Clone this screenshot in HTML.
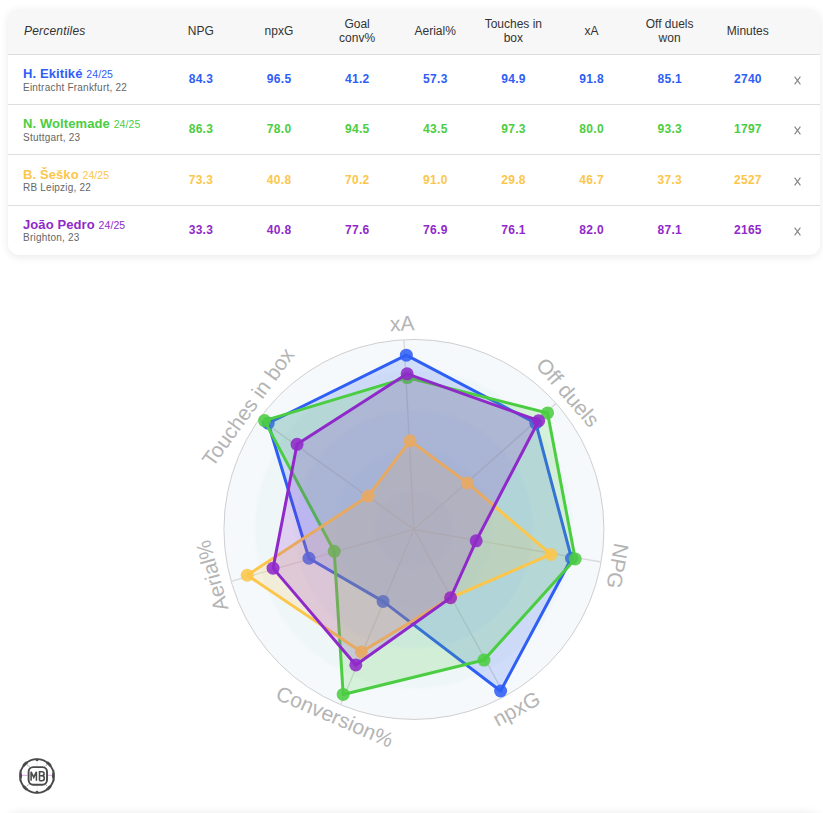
<!DOCTYPE html>
<html><head><meta charset="utf-8"><style>
html,body{margin:0;padding:0;background:#fff;width:823px;height:813px;overflow:hidden;}
body{position:relative;font-family:"Liberation Sans",sans-serif;}
.card{position:absolute;left:8px;top:9px;width:811.6px;height:246px;border-radius:11px;background:#fff;box-shadow:0 2px 8px rgba(0,0,0,0.09);overflow:hidden;}
.hdr{position:absolute;left:0;top:0;width:812px;height:45px;background:#f7f7f7;}
.ln{position:absolute;left:0;width:812px;height:1px;background:#dedede;}
.t{position:absolute;white-space:nowrap;}
.h{font-size:12px;color:#333;text-align:center;line-height:14px;}
.v{font-size:12px;font-weight:bold;text-align:center;letter-spacing:0.3px;text-indent:0.3px;}
.nm{font-size:13px;font-weight:bold;letter-spacing:0.1px;}
.ss{font-size:10.5px;font-weight:normal;}
.sub{font-size:10px;color:#666;letter-spacing:0.22px;}
.x{font-size:14px;color:#888;}
.bot{position:absolute;left:8px;top:815px;width:812px;height:100px;border-radius:10px;background:#fff;box-shadow:0 0 12px rgba(0,0,0,0.12);}
</style></head><body>
<div class="card">
<div class="hdr"></div>

<div class="t h" style="left:16px;top:15px;font-style:italic;text-align:left;letter-spacing:0.2px">Percentiles</div>
<div class="t h" style="left:152.8px;width:80px;top:15px;">NPG</div>
<div class="t h" style="left:230.94px;width:80px;top:15px;">npxG</div>
<div class="t h" style="left:309.08000000000004px;width:80px;top:8px;">Goal<br>conv%</div>
<div class="t h" style="left:387.22px;width:80px;top:15px;">Aerial%</div>
<div class="t h" style="left:465.36px;width:80px;top:8px;">Touches in<br>box</div>
<div class="t h" style="left:543.5px;width:80px;top:15px;">xA</div>
<div class="t h" style="left:621.6400000000001px;width:80px;top:8px;">Off duels<br>won</div>
<div class="t h" style="left:699.78px;width:80px;top:15px;">Minutes</div>
<div class="ln" style="top:45px"></div>
<div class="t nm" style="left:15px;top:57.0px;color:#2f5ef5">H. Ekitiké <span class="ss">24/25</span></div>
<div class="t sub" style="left:15px;top:72.5px;">Eintracht Frankfurt, 22</div>
<div class="t v" style="left:152.8px;width:80px;top:63.0px;color:#2f5ef5">84.3</div>
<div class="t v" style="left:230.94px;width:80px;top:63.0px;color:#2f5ef5">96.5</div>
<div class="t v" style="left:309.08000000000004px;width:80px;top:63.0px;color:#2f5ef5">41.2</div>
<div class="t v" style="left:387.22px;width:80px;top:63.0px;color:#2f5ef5">57.3</div>
<div class="t v" style="left:465.36px;width:80px;top:63.0px;color:#2f5ef5">94.9</div>
<div class="t v" style="left:543.5px;width:80px;top:63.0px;color:#2f5ef5">91.8</div>
<div class="t v" style="left:621.6400000000001px;width:80px;top:63.0px;color:#2f5ef5">85.1</div>
<div class="t v" style="left:699.78px;width:80px;top:63.0px;color:#2f5ef5">2740</div>
<svg class="t" style="left:786px;top:67.0px" width="8" height="10" viewBox="0 0 8 10"><path d="M0.6 0.6 L6.4 8.4 M6.4 0.6 L0.6 8.4" stroke="#808080" stroke-width="1.05" fill="none"/></svg>
<div class="ln" style="top:95px"></div>
<div class="t nm" style="left:15px;top:107.25px;color:#4bcd41">N. Woltemade <span class="ss">24/25</span></div>
<div class="t sub" style="left:15px;top:122.75px;">Stuttgart, 23</div>
<div class="t v" style="left:152.8px;width:80px;top:113.25px;color:#4bcd41">86.3</div>
<div class="t v" style="left:230.94px;width:80px;top:113.25px;color:#4bcd41">78.0</div>
<div class="t v" style="left:309.08000000000004px;width:80px;top:113.25px;color:#4bcd41">94.5</div>
<div class="t v" style="left:387.22px;width:80px;top:113.25px;color:#4bcd41">43.5</div>
<div class="t v" style="left:465.36px;width:80px;top:113.25px;color:#4bcd41">97.3</div>
<div class="t v" style="left:543.5px;width:80px;top:113.25px;color:#4bcd41">80.0</div>
<div class="t v" style="left:621.6400000000001px;width:80px;top:113.25px;color:#4bcd41">93.3</div>
<div class="t v" style="left:699.78px;width:80px;top:113.25px;color:#4bcd41">1797</div>
<svg class="t" style="left:786px;top:117.25px" width="8" height="10" viewBox="0 0 8 10"><path d="M0.6 0.6 L6.4 8.4 M6.4 0.6 L0.6 8.4" stroke="#808080" stroke-width="1.05" fill="none"/></svg>
<div class="ln" style="top:145px"></div>
<div class="t nm" style="left:15px;top:157.5px;color:#fcc64b">B. Šeško <span class="ss">24/25</span></div>
<div class="t sub" style="left:15px;top:173.0px;">RB Leipzig, 22</div>
<div class="t v" style="left:152.8px;width:80px;top:163.5px;color:#fcc64b">73.3</div>
<div class="t v" style="left:230.94px;width:80px;top:163.5px;color:#fcc64b">40.8</div>
<div class="t v" style="left:309.08000000000004px;width:80px;top:163.5px;color:#fcc64b">70.2</div>
<div class="t v" style="left:387.22px;width:80px;top:163.5px;color:#fcc64b">91.0</div>
<div class="t v" style="left:465.36px;width:80px;top:163.5px;color:#fcc64b">29.8</div>
<div class="t v" style="left:543.5px;width:80px;top:163.5px;color:#fcc64b">46.7</div>
<div class="t v" style="left:621.6400000000001px;width:80px;top:163.5px;color:#fcc64b">37.3</div>
<div class="t v" style="left:699.78px;width:80px;top:163.5px;color:#fcc64b">2527</div>
<svg class="t" style="left:786px;top:167.5px" width="8" height="10" viewBox="0 0 8 10"><path d="M0.6 0.6 L6.4 8.4 M6.4 0.6 L0.6 8.4" stroke="#808080" stroke-width="1.05" fill="none"/></svg>
<div class="ln" style="top:196px"></div>
<div class="t nm" style="left:15px;top:207.75px;color:#9029c9">João Pedro <span class="ss">24/25</span></div>
<div class="t sub" style="left:15px;top:223.25px;">Brighton, 23</div>
<div class="t v" style="left:152.8px;width:80px;top:213.75px;color:#9029c9">33.3</div>
<div class="t v" style="left:230.94px;width:80px;top:213.75px;color:#9029c9">40.8</div>
<div class="t v" style="left:309.08000000000004px;width:80px;top:213.75px;color:#9029c9">77.6</div>
<div class="t v" style="left:387.22px;width:80px;top:213.75px;color:#9029c9">76.9</div>
<div class="t v" style="left:465.36px;width:80px;top:213.75px;color:#9029c9">76.1</div>
<div class="t v" style="left:543.5px;width:80px;top:213.75px;color:#9029c9">82.0</div>
<div class="t v" style="left:621.6400000000001px;width:80px;top:213.75px;color:#9029c9">87.1</div>
<div class="t v" style="left:699.78px;width:80px;top:213.75px;color:#9029c9">2165</div>
<svg class="t" style="left:786px;top:217.75px" width="8" height="10" viewBox="0 0 8 10"><path d="M0.6 0.6 L6.4 8.4 M6.4 0.6 L0.6 8.4" stroke="#808080" stroke-width="1.05" fill="none"/></svg>
</div>
<div class="bot"></div>
<svg style="position:absolute;left:0;top:0" width="823" height="813" viewBox="0 0 823 813" font-family="Liberation Sans, sans-serif">
<circle cx="413.93" cy="529.44" r="190.0" fill="#f5f9fc" stroke="#cfcfcf" stroke-width="1"/>
<defs><filter id="bl" x="-10%" y="-10%" width="120%" height="120%"><feGaussianBlur stdDeviation="1.2"/></filter></defs><g filter="url(#bl)">
<circle cx="413.93" cy="529.44" r="158.75" fill="rgba(120,180,190,0.056)"/>
<circle cx="413.93" cy="529.44" r="119.1" fill="rgba(205,225,255,0.2)"/>
<circle cx="413.93" cy="529.44" r="79.4" fill="rgba(205,225,255,0.2)"/>
<circle cx="413.93" cy="529.44" r="39.7" fill="rgba(205,225,255,0.2)"/>
</g>
<line x1="413.93" y1="529.44" x2="403.99" y2="339.70" stroke="#dadada" stroke-width="1.4"/>
<line x1="413.93" y1="529.44" x2="556.07" y2="403.36" stroke="#dadada" stroke-width="1.4"/>
<line x1="413.93" y1="529.44" x2="601.13" y2="561.97" stroke="#dadada" stroke-width="1.4"/>
<line x1="413.93" y1="529.44" x2="505.21" y2="696.08" stroke="#dadada" stroke-width="1.4"/>
<line x1="413.93" y1="529.44" x2="340.56" y2="704.70" stroke="#dadada" stroke-width="1.4"/>
<line x1="413.93" y1="529.44" x2="231.16" y2="581.36" stroke="#dadada" stroke-width="1.4"/>
<line x1="413.93" y1="529.44" x2="259.39" y2="418.91" stroke="#dadada" stroke-width="1.4"/>
<polygon points="406.32,355.19 535.83,423.21 571.49,558.24 500.61,691.01 383.07,601.38 308.95,558.27 268.19,423.27" fill="#2f5ef5" fill-opacity="0.18" stroke="#2f5ef5" stroke-width="3" stroke-linejoin="round"/>
<circle cx="406.32" cy="355.19" r="6.5" fill="#2f5ef5" fill-opacity="0.88"/>
<circle cx="535.83" cy="423.21" r="6.5" fill="#2f5ef5" fill-opacity="0.88"/>
<circle cx="571.49" cy="558.24" r="6.5" fill="#2f5ef5" fill-opacity="0.88"/>
<circle cx="500.61" cy="691.01" r="6.5" fill="#2f5ef5" fill-opacity="0.88"/>
<circle cx="383.07" cy="601.38" r="6.5" fill="#2f5ef5" fill-opacity="0.88"/>
<circle cx="308.95" cy="558.27" r="6.5" fill="#2f5ef5" fill-opacity="0.88"/>
<circle cx="268.19" cy="423.27" r="6.5" fill="#2f5ef5" fill-opacity="0.88"/>
<polygon points="407.30,377.58 547.57,412.97 575.23,558.92 483.99,660.03 343.16,694.45 334.23,551.33 264.50,420.59" fill="#4bcd41" fill-opacity="0.18" stroke="#4bcd41" stroke-width="3" stroke-linejoin="round"/>
<circle cx="407.30" cy="377.58" r="6.5" fill="#4bcd41" fill-opacity="0.88"/>
<circle cx="547.57" cy="412.97" r="6.5" fill="#4bcd41" fill-opacity="0.88"/>
<circle cx="575.23" cy="558.92" r="6.5" fill="#4bcd41" fill-opacity="0.88"/>
<circle cx="483.99" cy="660.03" r="6.5" fill="#4bcd41" fill-opacity="0.88"/>
<circle cx="343.16" cy="694.45" r="6.5" fill="#4bcd41" fill-opacity="0.88"/>
<circle cx="334.23" cy="551.33" r="6.5" fill="#4bcd41" fill-opacity="0.88"/>
<circle cx="264.50" cy="420.59" r="6.5" fill="#4bcd41" fill-opacity="0.88"/>
<polygon points="410.06,440.79 467.36,482.88 550.93,554.48 450.58,597.75 361.36,652.02 247.20,575.23 368.16,496.10" fill="#fcc64b" fill-opacity="0.18" stroke="#fcc64b" stroke-width="3" stroke-linejoin="round"/>
<circle cx="410.06" cy="440.79" r="6.5" fill="#fcc64b" fill-opacity="0.88"/>
<circle cx="467.36" cy="482.88" r="6.5" fill="#fcc64b" fill-opacity="0.88"/>
<circle cx="550.93" cy="554.48" r="6.5" fill="#fcc64b" fill-opacity="0.88"/>
<circle cx="450.58" cy="597.75" r="6.5" fill="#fcc64b" fill-opacity="0.88"/>
<circle cx="361.36" cy="652.02" r="6.5" fill="#fcc64b" fill-opacity="0.88"/>
<circle cx="247.20" cy="575.23" r="6.5" fill="#fcc64b" fill-opacity="0.88"/>
<circle cx="368.16" cy="496.10" r="6.5" fill="#fcc64b" fill-opacity="0.88"/>
<polygon points="407.13,373.79 538.69,420.71 476.17,540.81 450.58,597.75 355.81,664.94 273.04,568.14 297.06,444.31" fill="#9029c9" fill-opacity="0.18" stroke="#9029c9" stroke-width="3" stroke-linejoin="round"/>
<circle cx="407.13" cy="373.79" r="6.5" fill="#9029c9" fill-opacity="0.88"/>
<circle cx="538.69" cy="420.71" r="6.5" fill="#9029c9" fill-opacity="0.88"/>
<circle cx="476.17" cy="540.81" r="6.5" fill="#9029c9" fill-opacity="0.88"/>
<circle cx="450.58" cy="597.75" r="6.5" fill="#9029c9" fill-opacity="0.88"/>
<circle cx="355.81" cy="664.94" r="6.5" fill="#9029c9" fill-opacity="0.88"/>
<circle cx="273.04" cy="568.14" r="6.5" fill="#9029c9" fill-opacity="0.88"/>
<circle cx="297.06" cy="444.31" r="6.5" fill="#9029c9" fill-opacity="0.88"/>
<text x="0" y="0" transform="translate(402.24,323.14) rotate(-2.50)" text-anchor="middle" dominant-baseline="central" font-size="21" fill="#b4b4b4">xA</text>
<text x="0" y="0" transform="translate(568.13,392.30) rotate(48.93)" text-anchor="middle" dominant-baseline="central" font-size="21" fill="#b4b4b4">Off duels</text>
<text x="0" y="0" transform="translate(617.67,566.08) rotate(100.36)" text-anchor="middle" dominant-baseline="central" font-size="21" fill="#b4b4b4">NPG</text>
<text x="0" y="0" transform="translate(516.22,708.61) rotate(-28.21)" text-anchor="middle" dominant-baseline="central" font-size="21" fill="#b4b4b4">npxG</text>
<text x="0" y="0" transform="translate(334.93,716.36) rotate(23.21)" text-anchor="middle" dominant-baseline="central" font-size="21" fill="#b4b4b4">Conversion%</text>
<text x="0" y="0" transform="translate(211.79,575.75) rotate(254.64)" text-anchor="middle" dominant-baseline="central" font-size="21" fill="#b4b4b4">Aerial%</text>
<text x="0" y="0" transform="translate(247.82,406.85) rotate(306.07)" text-anchor="middle" dominant-baseline="central" font-size="21" fill="#b4b4b4">Touches in box</text>
</svg>
<svg style="position:absolute;left:17px;top:756px" width="40" height="40" viewBox="0 0 40 40">
<circle cx="20" cy="20" r="16.9" fill="#fff" stroke="#4a4a4a" stroke-width="1.9"/>
<line x1="5" y1="19.3" x2="10.8" y2="19.3" stroke="#dd99e6" stroke-width="0.9"/>
<line x1="29.8" y1="19.3" x2="35" y2="19.3" stroke="#dd99e6" stroke-width="0.9"/>
<line x1="20" y1="4.5" x2="20" y2="10" stroke="#e6eef8" stroke-width="1"/>
<line x1="20" y1="29" x2="20" y2="35.5" stroke="#e6eef8" stroke-width="1"/>
<path d="M12.5 10.5 L7.5 7 M27.5 10.5 L32.5 7 M12.5 28 L7.5 31.5 M27.5 28 L32.5 31.5" stroke="#666" stroke-width="0.9" stroke-dasharray="1.1 1.1"/>
<path d="M18 3.3 L20 5 L22 3.3 Z M18 36.7 L20 35 L22 36.7 Z" fill="#4a4a4a" stroke="#4a4a4a" stroke-width="1"/>
<path d="M3.3 15.5 Q5.6 19.5 3.3 23.5 Z M36.7 15.5 Q34.4 19.5 36.7 23.5 Z" fill="#4a4a4a" stroke="#4a4a4a" stroke-width="1.2"/>
<path d="M6.3 10 A16.9 16.9 0 0 1 10 6.3 M30 6.3 A16.9 16.9 0 0 1 33.7 10 M33.7 30 A16.9 16.9 0 0 1 30 33.7 M10 33.7 A16.9 16.9 0 0 1 6.3 30" stroke="#4a4a4a" stroke-width="2.8" fill="none"/>
<rect x="11.6" y="11.1" width="18.4" height="17.6" rx="4.6" fill="#fff" stroke="#4a4a4a" stroke-width="1.9"/>
<path d="M14.1 24.7 V15.8 L16.75 21.4 L19.4 15.8 V24.7" stroke="#4a4a4a" stroke-width="1.55" fill="none" stroke-linejoin="miter"/>
<path d="M22.5 24.7 V15.8 H24.9 Q27.1 15.8 27.1 17.8 Q27.1 19.7 24.9 19.7 H22.5 M24.9 19.7 Q27.3 19.7 27.3 22.2 Q27.3 24.7 24.9 24.7 H22.5" stroke="#4a4a4a" stroke-width="1.55" fill="none"/>
</svg>
</body></html>
